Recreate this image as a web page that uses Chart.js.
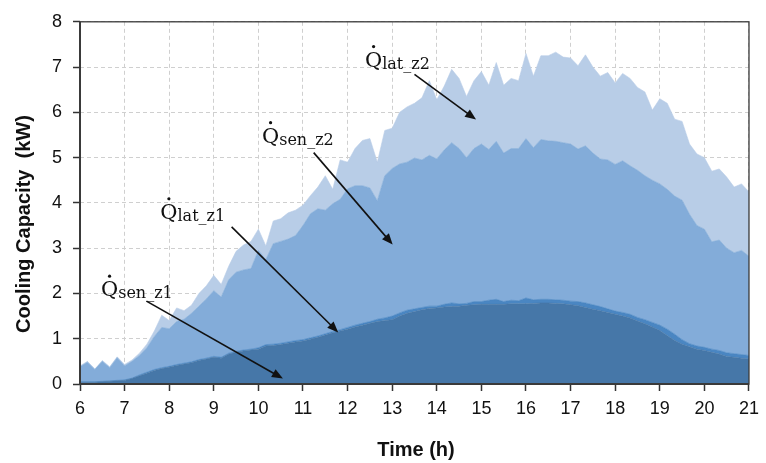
<!DOCTYPE html>
<html>
<head>
<meta charset="utf-8">
<script src="https://cdn.jsdelivr.net/npm/chart.js@4/dist/chart.umd.min.js"></script>
<style>
  html, body { margin: 0; padding: 0; background: #fff; }
</style>
</head>
<body>
<canvas id="chart" width="766" height="463"></canvas>
<script>
// time of day in minutes (10 min steps, 6:00 - 21:00)
const minutes = [
  360,370,380,390,400,410,420,430,440,450,460,470,480,490,500,510,520,530,540,550,
  560,570,580,590,600,610,620,630,640,650,660,670,680,690,700,710,720,730,740,750,
  760,770,780,790,800,810,820,830,840,850,860,870,880,890,900,910,920,930,940,950,
  960,970,980,990,1000,1010,1020,1030,1040,1050,1060,1070,1080,1090,1100,1110,1120,1130,1140,1150,
  1160,1170,1180,1190,1200,1210,1220,1230,1240,1250,1260
];

// cooling capacity per component (kW), stacked
const senZ1 = [
  0.04,0.04,0.04,0.05,0.06,0.07,0.08,
  0.12,0.18,0.24,0.30,0.34,0.37,
  0.41,0.44,0.47,0.52,0.55,0.59,
  0.57,0.66,0.70,0.73,0.75,0.77,
  0.84,0.85,0.87,0.90,0.93,0.95,
  0.99,1.03,1.08,1.13,1.17,1.21,
  1.26,1.30,1.34,1.38,1.40,1.42,
  1.50,1.56,1.60,1.64,1.67,1.68,
  1.70,1.71,1.72,1.74,1.75,1.76,
  1.76,1.76,1.76,1.77,1.77,1.77,
  1.78,1.79,1.79,1.78,1.77,1.75,
  1.73,1.69,1.65,1.62,1.58,1.54,
  1.50,1.46,1.39,1.33,1.26,1.18,
  1.07,0.96,0.88,0.82,0.77,0.74,
  0.70,0.66,0.61,0.59,0.57,0.55
];
const latZ1 = [
  0.01,0.01,0.01,0.01,0.01,0.01,0.01,
  0.01,0.02,0.02,0.02,0.02,0.02,
  0.02,0.02,0.02,0.02,0.02,0.02,
  0.02,0.02,0.02,0.02,0.02,0.03,
  0.03,0.03,0.03,0.03,0.03,0.03,
  0.03,0.03,0.03,0.03,0.03,0.04,
  0.04,0.04,0.04,0.05,0.06,0.08,
  0.07,0.07,0.06,0.05,0.05,0.04,
  0.06,0.08,0.05,0.04,0.07,0.06,
  0.09,0.11,0.06,0.08,0.07,0.13,
  0.08,0.08,0.08,0.08,0.08,0.08,
  0.09,0.10,0.10,0.09,0.08,0.07,
  0.08,0.08,0.08,0.09,0.10,0.12,
  0.14,0.14,0.10,0.07,0.07,0.07,
  0.07,0.08,0.08,0.08,0.08,0.08
];
const senZ2 = [
  0.33,0.43,0.27,0.44,0.29,0.50,0.31,
  0.37,0.43,0.54,0.73,0.89,0.83,
  0.95,0.97,1.07,1.18,1.31,1.45,
  1.33,1.62,1.75,1.77,1.78,2.15,
  1.88,2.22,2.25,2.27,2.32,2.52,
  2.74,2.81,2.73,2.82,2.88,3.06,
  3.08,3.04,2.95,2.62,3.14,3.26,
  3.29,3.27,3.33,3.26,3.33,3.25,
  3.41,3.54,3.43,3.22,3.38,3.48,
  3.33,3.49,3.28,3.35,3.36,3.52,
  3.36,3.53,3.50,3.50,3.48,3.47,
  3.37,3.47,3.35,3.26,3.29,3.24,
  3.35,3.28,3.25,3.18,3.14,3.12,
  3.09,3.05,3.08,2.86,2.66,2.61,
  2.37,2.44,2.31,2.23,2.30,2.19
];
const latZ2 = [
  0.02,0.02,0.01,0.02,0.02,0.02,0.03,
  0.03,0.05,0.08,0.12,0.27,0.18,
  0.30,0.19,0.18,0.28,0.29,0.34,
  0.28,0.30,0.46,0.55,0.60,0.47,
  0.30,0.50,0.50,0.58,0.56,0.45,
  0.40,0.48,0.76,0.32,0.87,0.59,
  0.82,1.00,1.09,0.85,1.00,0.89,
  1.14,1.22,1.21,1.37,1.65,1.31,
  1.41,1.62,1.55,1.35,1.50,1.60,
  1.42,1.74,1.50,1.55,1.50,1.88,
  1.58,1.85,1.88,1.97,1.89,1.90,
  1.84,2.01,1.90,1.83,1.93,1.80,
  1.93,1.93,1.83,1.85,1.55,1.88,
  1.90,1.70,1.74,1.55,1.58,1.58,
  1.56,1.57,1.57,1.45,1.47,1.42
];

const hourTicks = [6,7,8,9,10,11,12,13,14,15,16,17,18,19,20,21];
const yTicks = [0,1,2,3,4,5,6,7,8];

const toPoints = arr => arr.map((v, i) => ({ x: minutes[i] / 60, y: v }));

// labels with arrows, in data coords
const notes = [
  { sub: 'sen_z1', tx: 6.47, ty: 1.94, ax: 7.49, ay: 1.83, bx: 10.55, by: 0.12 },
  { sub: 'lat_z1', tx: 7.80, ty: 3.65, ax: 9.40, ay: 3.47, bx: 11.79, by: 1.14 },
  { sub: 'sen_z2', tx: 10.08, ty: 5.33, ax: 11.24, ay: 5.11, bx: 13.01, by: 3.08 },
  { sub: 'lat_z2', tx: 12.39, ty: 7.01, ax: 13.50, ay: 6.84, bx: 14.88, by: 5.84 }
];

function arrow(ctx, x1, y1, x2, y2) {
  const ang = Math.atan2(y2 - y1, x2 - x1);
  const len = 11, hw = 4.5;
  ctx.beginPath();
  ctx.moveTo(x1, y1);
  ctx.lineTo(x2 - Math.cos(ang) * len * 0.8, y2 - Math.sin(ang) * len * 0.8);
  ctx.stroke();
  ctx.beginPath();
  ctx.moveTo(x2, y2);
  ctx.lineTo(x2 - Math.cos(ang) * len - Math.sin(ang) * hw, y2 - Math.sin(ang) * len + Math.cos(ang) * hw);
  ctx.lineTo(x2 - Math.cos(ang) * len + Math.sin(ang) * hw, y2 - Math.sin(ang) * len - Math.cos(ang) * hw);
  ctx.closePath();
  ctx.fill();
}

const decor = {
  id: 'decor',
  afterDatasetsDraw(chart) {
    const { ctx, chartArea: a, scales: { x, y } } = chart;
    ctx.save();
    // frame
    ctx.strokeStyle = '#3a3a3a';
    ctx.lineWidth = 1.3;
    ctx.strokeRect(a.left, a.top, a.right - a.left, a.bottom - a.top);
    ctx.lineWidth = 2;
    ctx.beginPath();
    ctx.moveTo(a.left, a.top);
    ctx.lineTo(a.left, a.bottom);
    ctx.lineTo(a.right, a.bottom);
    ctx.stroke();

    // notes
    ctx.fillStyle = '#111';
    ctx.strokeStyle = '#111';
    ctx.lineWidth = 1.6;
    ctx.textBaseline = 'alphabetic';
    ctx.textAlign = 'left';
    notes.forEach(n => {
      const px = x.getPixelForValue(n.tx), py = y.getPixelForValue(n.ty);
      ctx.font = '21px "DejaVu Serif"';
      ctx.fillText('Q', px, py);
      const qw = ctx.measureText('Q').width;
      ctx.beginPath();
      ctx.arc(px + qw / 2, py - 20, 1.6, 0, Math.PI * 2);
      ctx.fill();
      ctx.font = '16px "DejaVu Serif"';
      ctx.fillText(n.sub, px + qw, py + 2);
      arrow(ctx, x.getPixelForValue(n.ax), y.getPixelForValue(n.ay),
                 x.getPixelForValue(n.bx), y.getPixelForValue(n.by));
    });

    // axis titles
    ctx.fillStyle = '#111';
    ctx.font = 'bold 20px "Liberation Sans", Arial, sans-serif';
    ctx.textAlign = 'center';
    ctx.textBaseline = 'middle';
    ctx.fillText('Time (h)', 416, 450);
    ctx.translate(24, 224);
    ctx.rotate(-Math.PI / 2);
    ctx.fillText('Cooling Capacity  (kW)', 0, 0);
    ctx.restore();
  }
};

const tickFont = { family: '"Liberation Sans", Arial, sans-serif', size: 18 };

new Chart(document.getElementById('chart'), {
  type: 'line',
  data: {
    datasets: [
      { label: 'Q_sen_z1', data: toPoints(senZ1), backgroundColor: '#4677a8', borderColor: '#4677a8', fill: 'origin' },
      { label: 'Q_lat_z1', data: toPoints(latZ1), backgroundColor: '#4a86c2', borderColor: '#4a86c2', fill: '-1' },
      { label: 'Q_sen_z2', data: toPoints(senZ2), backgroundColor: '#83acd9', borderColor: '#83acd9', fill: '-1' },
      { label: 'Q_lat_z2', data: toPoints(latZ2), backgroundColor: '#b8cde7', borderColor: '#b8cde7', fill: '-1' }
    ]
  },
  options: {
    responsive: false,
    animation: false,
    layout: { padding: { left: 0, right: 10, top: 18, bottom: 0 } },
    elements: { point: { radius: 0 }, line: { borderWidth: 0.6, tension: 0 } },
    plugins: { legend: { display: false }, tooltip: { enabled: false } },
    scales: {
      x: {
        type: 'linear', min: 6, max: 21,
        afterFit: s => { s.height = 79; },
        afterBuildTicks: s => { s.ticks = hourTicks.map(v => ({ value: v })); },
        ticks: { font: tickFont, color: '#111', padding: 7, maxRotation: 0, autoSkip: false },
        grid: { color: '#cfcfcf', lineWidth: 1, tickLength: 7, tickColor: '#333', tickWidth: 1.5 },
        border: { display: false, dash: [4, 3] }
      },
      y: {
        stacked: true, min: 0, max: 8,
        afterFit: s => { s.width = 80; },
        afterBuildTicks: s => { s.ticks = yTicks.map(v => ({ value: v })); },
        ticks: { font: tickFont, color: '#111', padding: 11 },
        grid: { color: '#cfcfcf', lineWidth: 1, tickLength: 7, tickColor: '#333', tickWidth: 1.5 },
        border: { display: false, dash: [4, 3] }
      }
    }
  },
  plugins: [decor]
});
</script>
</body>
</html>
